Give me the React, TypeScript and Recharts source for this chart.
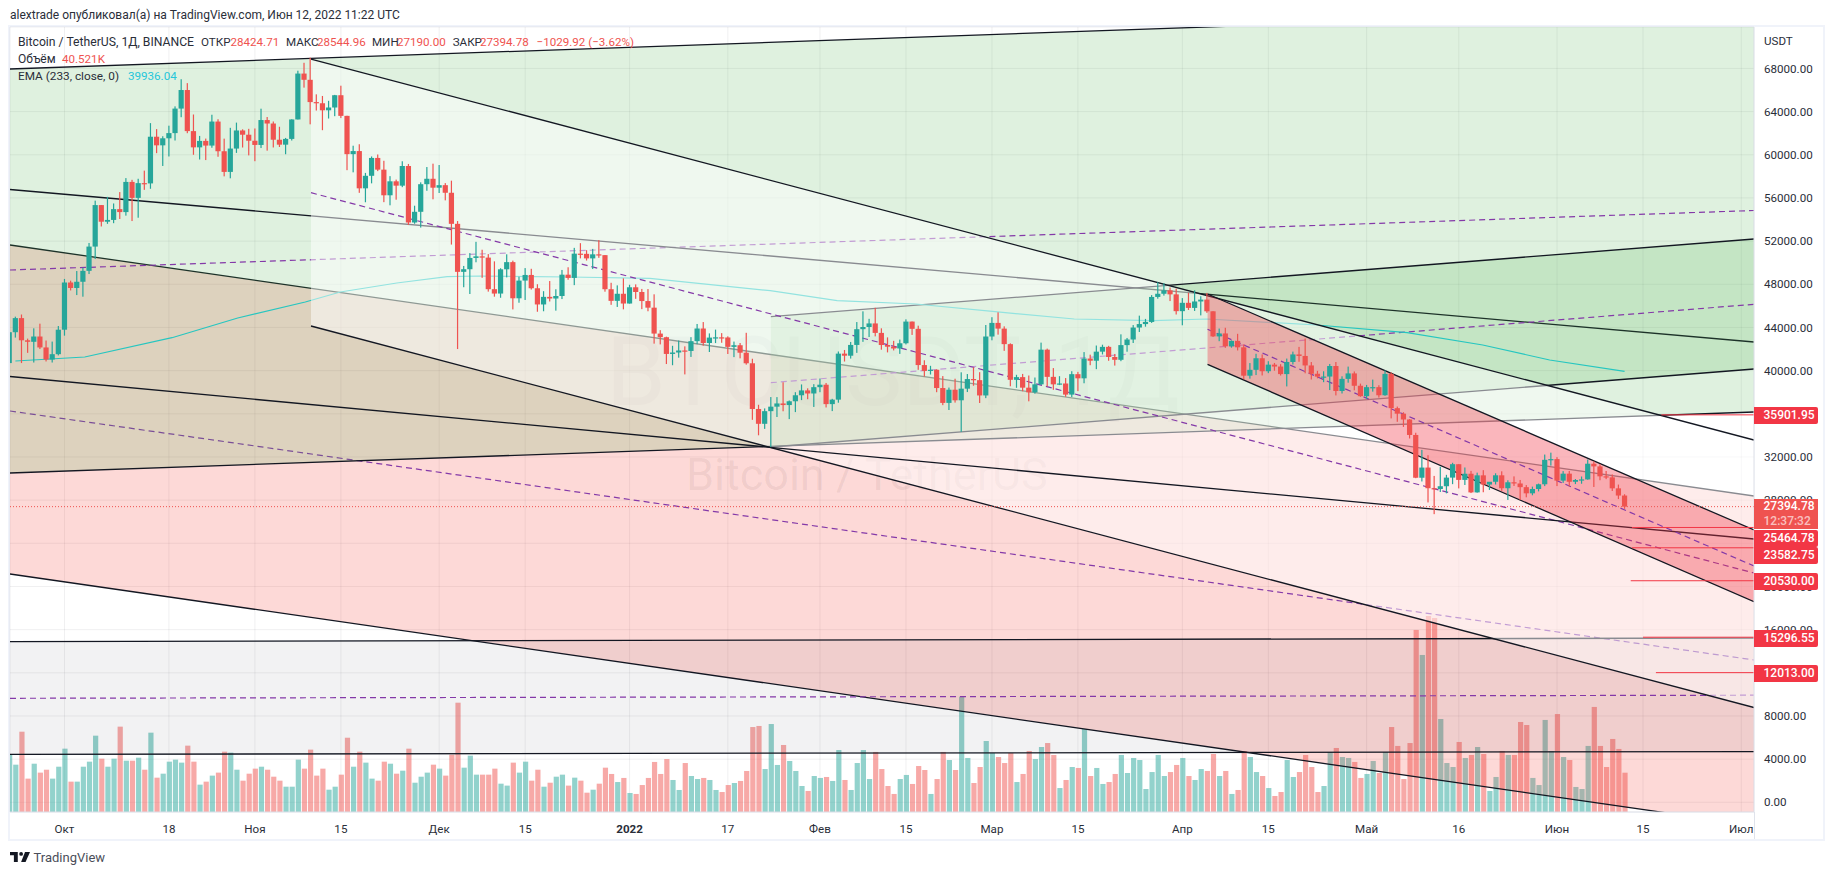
import React from "react";
import { ComposedChart, Bar, Line, Area, XAxis, YAxis, CartesianGrid } from "recharts";

const firstDay = -9;
const opens = [40698,43560,44865,42810,42670,43160,42147,41026,41522,43790,48165,47657,48233,49245,51493,55339,53797,53963,54963,54690,57485,56006,57374,57347,61672,60875,61528,62009,64280,66001,62193,60688,61286,60852,63078,60328,58413,60575,62253,61859,61300,60911,63219,62896,61395,60937,61470,63273,67525,66947,64882,64774,64122,64380,65519,63606,60058,60344,56891,58052,59707,58622,56247,57541,57138,58960,53726,54716,57274,57776,56950,57184,56480,53601,49152,49396,50441,50588,50471,47545,47140,49389,50053,46702,48343,48864,47632,46131,46834,46681,46914,48890,48589,50838,50820,50399,50775,50701,47543,46464,47120,46216,47722,47286,46446,45833,43431,43097,41546,41678,41864,41822,42729,43902,42560,43059,43084,43071,42201,42352,41660,40680,36445,35071,36244,36660,36958,36809,37160,37716,38166,37881,38466,38694,36896,37311,41574,41382,42380,43839,44042,44372,43495,42373,42217,42053,42535,44544,43873,40515,39974,40079,38386,37008,38230,37250,38327,39219,39116,37699,43160,44421,43892,42454,39148,39397,38420,37988,38730,41942,39422,38729,38807,37777,39671,39286,41118,40917,41757,42201,41262,41002,42364,42882,43991,44313,44511,46827,47122,47434,47067,45510,46283,45811,46407,46580,45497,43170,43445,42252,42753,42158,39530,40074,41147,39942,40552,40378,39678,40801,41500,41358,40480,39709,39441,39450,40426,38112,39235,39742,38596,37630,38468,38469,37716,39698,36521,36010,35472,34038,30074,31017,29103,29029,29287,30086,31329,29874,30444,28716,30296,29445,29700,30300,29102,29655,29542,29201,28630,29031,29468,31734,31801,29805,30452,29700,29865,29919,31373,31125,30204,30109,29091,28424.71];
const highs = [43950,45000,45200,42966,43920,44350,42787,42690,44132,48495,48336,49228,49529,51830,55750,55338,56100,55489,56545,57839,57680,57777,58532,62933,62378,61718,62695,64486,67000,66639,63732,61747,61500,63710,63293,61496,62499,62980,62359,62405,62437,64270,63500,63086,62595,61560,63286,67789,68524,69000,65600,65450,65000,65550,66401,63617,60840,60976,58320,59845,60029,59444,58020,57700,59398,59150,55280,57445,58865,59176,59053,57375,57600,53859,49699,50891,51936,51200,50797,50125,49485,50777,50189,48700,49500,49436,48004,47360,48300,47537,49328,49576,51375,51810,51156,51280,52088,50704,48139,47900,48548,47954,47990,47570,47557,47070,43748,43145,42300,42786,42248,43100,44322,44500,43448,43800,43475,43176,42691,42559,43505,41100,36835,36499,37550,37545,38919,37234,38000,38720,38359,38744,39265,38855,37387,41772,41913,42656,44500,45492,44799,45821,43920,43079,42760,42876,44751,44549,44164,40959,40444,40125,39494,38429,39249,39843,39683,40300,39855,44225,44949,45400,44102,42527,39613,39693,39547,39362,42594,42039,40236,39486,39310,39947,39887,41718,41478,42325,42400,42296,41544,43361,43025,44220,45094,44792,46999,48189,48096,47700,47600,46720,47213,47444,46890,47200,45507,43900,43970,42800,43410,42414,40699,41561,41500,40870,40709,40595,41116,41760,42199,42976,40795,39980,39940,40616,40797,39474,40372,39925,38795,38675,39167,38647,40023,39842,36668,36146,35510,34243,32658,32162,30243,31083,30343,31460,31328,31025,30709,30545,30777,29600,30487,30670,29840,30200,29868,29397,29251,29530,32222,32399,31982,30689,30699,29955,30189,31765,31589,31327,30700,30382,29440,28544.96];
const lows = [40680,43060,40700,41646,40750,42000,40850,40750,41410,43240,47430,47000,46850,48950,50340,53357,53600,53661,54050,54360,53860,54167,56750,56850,60150,58963,59844,61322,63481,62000,60000,59562,59510,60650,59817,58000,57820,60174,60673,59945,59405,60624,60382,60677,60721,60050,61322,63273,66222,62822,64100,62278,63360,63576,63400,58574,58373,56474,55600,57353,58486,55610,55317,55837,57000,53500,53610,53256,56666,55875,56458,55777,51680,42000,47727,47100,50039,48600,47320,46852,46751,48638,45672,46290,46547,47511,45456,45500,46406,45558,46630,48421,47920,50400,50200,49412,50449,47313,46096,45900,45678,46208,46654,45696,45500,42500,42430,40610,40501,41200,39650,41268,42450,42311,41725,42555,42581,41540,41250,41138,40553,35440,34008,34601,32917,35701,36234,35507,36155,37268,37351,36632,38000,36586,36250,37026,40843,41116,41645,42666,43117,43174,41938,41688,41870,41550,42427,43307,40073,39450,39639,38000,36800,36350,37036,34322,38014,38600,37000,37450,42809,43334,41832,38550,38407,38088,37155,37867,38656,38539,38223,38660,37578,37555,38098,38828,40500,40135,41499,40911,40467,40875,41751,42560,43579,44071,44422,46663,46950,46445,45200,44200,45620,45530,45118,45353,43121,42727,42107,42125,41868,39200,39254,39588,39551,39766,39991,39546,38536,40571,40820,39751,39177,39285,38929,38200,37702,37881,38881,38175,37578,37386,38053,37500,37670,35571,35258,34785,33713,30033,29730,27785,26700,28751,28630,29480,29087,29404,28654,28691,28730,28947,29450,28866,28019,29311,28019,28261,28450,28810,29299,31200,29301,29594,29282,29485,29519,29890,29218,29843,29944,28850,28099,27190];
const closes = [43560,44865,42810,42670,43160,42147,41026,41522,43790,48165,47657,48233,49245,51493,55339,53797,53963,54963,54690,57485,56006,57374,57347,61672,60875,61528,62009,64280,66001,62193,60688,61286,60852,63078,60328,58413,60575,62253,61859,61300,60911,63219,62896,61395,60937,61470,63273,67525,66947,64882,64774,64122,64380,65519,63606,60058,60344,56891,58052,59707,58622,56247,57541,57138,58960,53726,54716,57274,57776,56950,57184,56480,53601,49152,49396,50441,50588,50471,47545,47140,49389,50053,46702,48343,48864,47632,46131,46834,46681,46914,48890,48589,50838,50820,50399,50775,50701,47543,46464,47120,46216,47722,47286,46446,45833,43431,43097,41546,41678,41864,41822,42729,43902,42560,43059,43084,43071,42201,42352,41660,40680,36445,35071,36244,36660,36958,36809,37160,37716,38166,37881,38466,38694,36896,37311,41574,41382,42380,43839,44042,44372,43495,42373,42217,42053,42535,44544,43873,40515,39974,40079,38386,37008,38230,37250,38327,39219,39116,37699,43160,44421,43892,42454,39148,39397,38420,37988,38730,41942,39422,38729,38807,37777,39671,39286,41118,40917,41757,42201,41262,41002,42364,42882,43991,44313,44511,46827,47122,47434,47067,45510,46283,45811,46407,46580,45497,43170,43445,42252,42753,42158,39530,40074,41147,39942,40552,40378,39678,40801,41500,41358,40480,39709,39441,39450,40426,38112,39235,39742,38596,37630,38468,38469,37716,39698,36521,36010,35472,34038,30074,31017,29103,29029,29287,30086,31329,29874,30444,28716,30296,29445,29700,30300,29102,29655,29542,29201,28630,29031,29468,31734,31801,29805,30452,29700,29865,29919,31373,31125,30204,30109,29091,28424.71,27394.78];
const volumes = [59.1,48.8,82.8,34.4,49.8,40.6,43.6,34.4,46.7,65.3,31.3,31.3,46.7,51.9,78.7,55.0,46.7,55.0,88.0,52.9,52.9,56.0,43.6,81.8,35.4,39.5,51.9,54.0,50.9,68.4,51.9,28.2,31.3,37.5,40.6,62.2,61.2,43.6,32.3,39.5,44.7,46.7,43.6,36.4,32.3,26.1,26.1,54.0,44.7,64.3,37.5,44.7,23.0,26.1,38.5,76.6,46.7,62.2,50.9,34.4,32.3,51.9,49.8,39.5,42.6,65.3,30.2,36.4,40.6,48.8,44.7,37.5,59.1,112.7,45.7,58.1,38.5,38.5,38.5,44.7,29.2,27.2,50.9,40.6,51.9,32.3,43.6,26.1,30.2,36.4,38.5,27.2,35.4,32.3,19.9,23.0,29.2,45.7,39.2,30.9,35.1,19.6,18.6,27.8,35.1,51.6,39.2,54.6,33.0,22.7,50.5,37.1,34.0,35.1,33.0,22.7,20.6,27.8,29.9,32.0,42.3,87.6,88.7,44.3,90.7,48.5,69.1,52.6,42.3,26.8,21.7,37.1,35.1,36.1,32.0,63.9,33.0,22.7,50.5,63.9,34.0,61.9,44.3,26.8,18.6,34.0,38.2,28.9,47.4,43.3,18.6,34.0,61.9,53.6,43.3,118.9,55.7,29.9,46.4,73.2,60.8,56.7,50.5,60.8,30.9,39.2,62.9,54.6,67.0,71.1,58.8,24.7,33.0,46.4,45.4,85.6,37.1,45.4,28.9,30.9,39.2,58.8,40.2,55.7,53.6,23.7,41.2,58.8,37.1,41.2,48.5,55.7,37.1,33.0,44.3,42.3,59.8,37.1,42.3,18.6,22.7,62.9,56.7,41.2,37.1,24.7,16.5,20.6,53.6,36.1,41.2,58.8,46.4,20.6,26.8,61.9,66.0,56.7,55.7,51.6,35.1,39.2,52.6,40.2,61.9,87.6,68.1,34.0,71.1,187.7,161.9,202.1,200.0,95.9,50.5,46.4,72.2,55.7,58.8,67.0,59.8,21.7,36.1,62.9,58.8,58.8,92.8,89.7,35.1,27.8,94.9,62.9,101.0,56.7,53.6,25.8,23.7,68.1,108.3,68.1,46.4,75.3,65.0,40.521];

const emaDays = [-8,3.3,17.5,28.2,39.2,44.9,54.1,62.3,67.6,82.3,95.3,114.9,125.8,138.6,151.5,164.4,177.2,186,203.9,218.6,230.9,241.8,254];
const emaValues = [40892,41263,43050,44876,46358,47285,48119,48703,48768,48675,48554,47405,46479,46174,45459,44783,44626,44783,44228,43514,42374,40984,39936];

const dayMin = -8.874;
const dayMax = 275.07;
const priceMin = -899;
const priceMax = 71840;
const volumeMax = 809.4;

const priceTicks = [0,4000,8000,12000,16000,20000,24000,28000,32000,36000,40000,44000,48000,52000,56000,60000,64000,68000];
const timeTicks = [0,17,31,45,61,75,92,108,123,137,151,165,182,196,212,227,243,257,273];
const timeLabels = ["Окт","18","Ноя","15","Дек","15","2022","17","Фев","15","Мар","15","Апр","15","Май","16","Июн","15","Июл"];

type P = { day: number; value: number };
const seg = (d0: number, v0: number, d1: number, v1: number): P[] => [{ day: d0, value: v0 }, { day: d1, value: v1 }];
const band = (top: P[], bottom: P[]) => top.map((p, i) => ({ day: p.day, range: [bottom[i].value, p.value] }));

// drawing anchors (day, price)
const upTop = seg(dayMin, 67947, dayMax, 73618);
const upMid = seg(dayMin, 49323, dayMax, 54836);
const upBottom = seg(dayMin, 30513, dayMax, 36165);
const lineA = seg(dayMin, 56782, dayMax, 42651);
const lineB = seg(dayMin, 39455, dayMax, 24397);
const redTop = seg(dayMin, 51640, dayMax, 28382);
const redMid = seg(dayMin, 36258, dayMax, 13186);
const redBottom = seg(dayMin, 21154, dayMax, -2150);
const flatTop = seg(dayMin, 14881, dayMax, 15224);
const flatMid = seg(dayMin, 9637, dayMax, 9924);
const flatBottom = seg(dayMin, 4438, dayMax, 4698);
const riseTop = seg(115, 44996, dayMax, 52195);
const riseMid = seg(115, 38880, dayMax, 46145);
const riseBottom = seg(115, 32922, dayMax, 40150);
const fallTop = seg(40.13, 68874, dayMax, 33571);
const fallMid = seg(40.13, 56486, dayMax, 21247);
const fallBottom = seg(40.13, 44134, dayMax, 8784);
const chanTop = seg(186.1, 47099, dayMax, 25231);
const chanMid = seg(186.1, 43828, dayMax, 21896);
const chanBottom = seg(186.1, 40585, dayMax, 18588);

const lastPrice = 27394.78;
const levels: [number, number][] = [[35901.95,260],[25464.78,255.2],[23582.75,255.2],[20530,255],[15296.55,257],[12013,259.1]];

const rows = closes.map((c, i) => ({
  day: firstDay + i, open: opens[i], high: highs[i], low: lows[i], close: c, volume: volumes[i],
}));

const UP = "#26a69a";
const DOWN = "#ef5350";
const INK = "#131722";
const DASH = "#8439a8";
const FONT = "Roboto, sans-serif";
const TEXT = "#2a2e39";
const BODY = 5.2;

const Candle = (p: any) => {
  const { x, y, width, height, payload: d } = p;
  const k = height / (d.high - d.low);
  const yO = y + (d.high - d.open) * k;
  const yC = y + (d.high - d.close) * k;
  const color = d.close >= d.open ? UP : DOWN;
  const cx = x + width / 2;
  return (
    <g>
      <rect x={cx - 0.6} y={y} width={1.2} height={height} fill={color} />
      <rect x={cx - BODY / 2} y={Math.min(yO, yC)} width={BODY} height={Math.max(1.2, Math.abs(yC - yO))} fill={color} />
    </g>
  );
};

const VolumeBar = (p: any) => {
  const { x, y, width, height, payload: d } = p;
  const cx = x + width / 2;
  return <rect x={cx - BODY / 2} y={y} width={BODY} height={height} fill={d.close >= d.open ? "rgba(38,166,154,0.5)" : "rgba(239,83,80,0.5)"} />;
};

const TimeTick = (p: any) => {
  const label = timeLabels[timeTicks.indexOf(p.payload.value)];
  return (
    <text x={p.x} y={p.y + 13} textAnchor="middle" fontFamily={FONT} fontSize={11.6} fill={TEXT} fontWeight={label === "2022" ? 700 : 400}>{label}</text>
  );
};

const PriceTick = (p: any) => (
  <text x={1764} y={p.y + 4.2} textAnchor="start" fontFamily={FONT} fontSize={11.6} fill={TEXT}>{Number(p.payload.value).toFixed(2)}</text>
);

let z = 10;
const fill = (data: any[], color: string) => {
  z += 1;
  return <Area key={"a" + z} data={data} dataKey="range" yAxisId="price" type="linear" stroke="none" fill={color} fillOpacity={1} dot={false} activeDot={false} isAnimationActive={false} legendType="none" zIndex={z} />;
};
const stroke = (data: P[], color: string, dash?: string, width = 1.3) => {
  z += 1;
  return <Line key={"l" + z} data={data} dataKey="value" yAxisId="price" type="linear" stroke={color} strokeWidth={width} strokeDasharray={dash} dot={false} activeDot={false} isAnimationActive={false} legendType="none" zIndex={z} />;
};

const Tag = ({ cy, text, color = "#f23645" }: { cy: number; text: string; color?: string }) => (
  <div style={{ position: "absolute", left: 1754, top: cy - 8.5, width: 64, height: 17, background: color, color: "#fff", fontFamily: FONT, fontSize: 12, fontWeight: 500, lineHeight: "17px", paddingLeft: 9.5, boxSizing: "border-box", borderRadius: "0 2px 2px 0" }}>{text}</div>
);

const Abs = ({ x, y, color = TEXT, size = 11.6, children }: any) => (
  <span style={{ position: "absolute", left: x, top: y - 8, lineHeight: "16px", fontFamily: FONT, fontSize: size, color, whiteSpace: "nowrap" }}>{children}</span>
);

export default function App() {
  z = 10;
  const emaData = emaDays.map((d, i) => ({ day: d, value: emaValues[i] }));
  const lastLine = seg(dayMin, lastPrice, dayMax, lastPrice);
  return (
    <div style={{ position: "absolute", left: 0, top: 0, width: 1834, height: 875, background: "#fff", overflow: "hidden" }}>
      <Abs x={10} y={15} size={12} color="#2a2e39">alextrade опубликовал(а) на TradingView.com, Июн 12, 2022 11:22 UTC</Abs>

      <div style={{ position: "absolute", left: 8, top: 25, width: 1817, height: 816, boxSizing: "border-box", border: "2px solid #f0f3fa" }} />
      <div style={{ position: "absolute", left: 606, top: 316, fontFamily: FONT, fontSize: 96, lineHeight: "112px", color: "rgba(19,23,34,0.05)", whiteSpace: "nowrap" }}>BTCUSDT, 1Д</div>
      <div style={{ position: "absolute", left: 686, top: 448, fontFamily: FONT, fontSize: 45, lineHeight: "54px", color: "rgba(19,23,34,0.07)", whiteSpace: "nowrap" }}>Bitcoin / TetherUS</div>

      <div style={{ position: "absolute", left: 0, top: 0 }}>
        <ComposedChart width={1834} height={875} data={rows} margin={{ top: 27, left: 10, right: 0, bottom: 36 }}>
          <CartesianGrid yAxisId="price" stroke="rgba(42,46,57,0.07)" strokeWidth={1} />
          <XAxis dataKey="day" type="number" domain={[dayMin, dayMax]} ticks={timeTicks} interval={0} allowDataOverflow height={27} stroke="#e0e3eb" tickLine={false} tick={<TimeTick />} />
          <XAxis xAxisId="vol" dataKey="day" type="number" domain={[dayMin, dayMax]} allowDataOverflow hide />
          <YAxis yAxisId="price" orientation="right" type="number" domain={[priceMin, priceMax]} ticks={priceTicks} interval={0} allowDataOverflow width={80} stroke="#e0e3eb" tickLine={false} tick={<PriceTick />} />
          <YAxis yAxisId="vol" type="number" domain={[0, volumeMax]} allowDataOverflow hide />

          <Bar xAxisId="vol" yAxisId="vol" dataKey="volume" barSize={5} shape={<VolumeBar />} isAnimationActive={false} legendType="none" zIndex={5} />

          {fill(band(redTop, redBottom), "rgba(244,67,54,0.2)")}
          {stroke(redTop, INK)}
          {stroke(redMid, DASH, "6 4", 1.2)}
          {stroke(redBottom, INK)}

          {fill(band(upTop, upBottom), "rgba(76,175,80,0.18)")}
          {stroke(upTop, INK)}
          {stroke(upMid, DASH, "6 4", 1.2)}
          {stroke(upBottom, INK)}

          {fill(band(flatTop, flatBottom), "rgba(19,23,34,0.055)")}
          {stroke(flatTop, INK)}
          {stroke(flatMid, DASH, "6 4", 1.2)}
          {stroke(flatBottom, INK)}

          {stroke(lineA, INK)}

          {fill(band(riseTop, riseBottom), "rgba(76,175,80,0.18)")}
          {stroke(riseTop, INK)}
          {stroke(riseMid, DASH, "6 4", 1.2)}
          {stroke(riseBottom, INK)}

          {stroke(emaData, "#26c6c0", undefined, 1.2)}

          {fill(band(fallTop, fallBottom), "rgba(255,255,255,0.5)")}
          {stroke(fallTop, INK)}
          {stroke(fallMid, DASH, "6 4", 1.2)}
          {stroke(fallBottom, INK)}
          {stroke(lineB, INK)}

          {fill(band(chanTop, chanBottom), "rgba(242,54,69,0.36)")}
          {stroke(chanTop, INK)}
          {stroke(chanMid, DASH, "6 4", 1.2)}
          {stroke(chanBottom, INK)}

          <Bar dataKey={(d: any) => [d.low, d.high]} yAxisId="price" barSize={5} shape={<Candle />} isAnimationActive={false} legendType="none" zIndex={300} />

          {levels.map(([v, d], i) => (
            <Line key={"lvl" + i} data={seg(d, v, dayMax, v)} dataKey="value" yAxisId="price" type="linear" stroke="#f23645" strokeWidth={1} dot={false} activeDot={false} isAnimationActive={false} legendType="none" zIndex={310} />
          ))}
          <Line data={lastLine} dataKey="value" yAxisId="price" type="linear" stroke={DOWN} strokeWidth={1} strokeDasharray="1 2" dot={false} activeDot={false} isAnimationActive={false} legendType="none" zIndex={320} />
        </ComposedChart>
      </div>

      <div style={{ position: "absolute", left: 1754, top: 812, width: 1, height: 27, background: "#e0e3eb" }} />

      <Abs x={18} y={41.5} size={12.2} color={TEXT}>Bitcoin / TetherUS, 1Д, BINANCE</Abs>
      <Abs x={201} y={41.5} color={TEXT}>ОТКР</Abs><Abs x={230.5} y={41.5} color={DOWN}>28424.71</Abs>
      <Abs x={286} y={41.5} color={TEXT}>МАКС</Abs><Abs x={317} y={41.5} color={DOWN}>28544.96</Abs>
      <Abs x={372} y={41.5} color={TEXT}>МИН</Abs><Abs x={397} y={41.5} color={DOWN}>27190.00</Abs>
      <Abs x={452.7} y={41.5} color={TEXT}>ЗАКР</Abs><Abs x={480} y={41.5} color={DOWN}>27394.78</Abs>
      <Abs x={536.6} y={41.5} color={DOWN}>−1029.92 (−3.62%)</Abs>
      <Abs x={18} y={58.7} size={12} color={TEXT}>Объём</Abs><Abs x={62} y={58.7} color={DOWN}>40.521K</Abs>
      <Abs x={18} y={76} size={11.8} color={TEXT}>EMA (233, close, 0)</Abs><Abs x={128} y={76} color="#26c6da">39936.04</Abs>

      <Abs x={1764} y={41} color={TEXT}>USDT</Abs>

      <Tag cy={415} text="35901.95" />
      <div style={{ position: "absolute", left: 1754, top: 499, width: 64, height: 30, background: DOWN, fontFamily: FONT, fontSize: 12, fontWeight: 500, paddingLeft: 9.5, boxSizing: "border-box", color: "#fff", lineHeight: "14.5px" }}>
        <div>27394.78</div>
        <div style={{ color: "rgba(255,255,255,0.65)" }}>12:37:32</div>
      </div>
      <Tag cy={538} text="25464.78" />
      <Tag cy={555.5} text="23582.75" />
      <Tag cy={581.5} text="20530.00" />
      <Tag cy={638.5} text="15296.55" />
      <Tag cy={673.5} text="12013.00" />

      <svg style={{ position: "absolute", left: 10, top: 852 }} width={20} height={10} viewBox="0 0 36 18">
        <path d="M0 0h14v18H7V6H0z" fill="#131722" />
        <circle cx={20} cy={3.4} r={3.4} fill="#131722" />
        <path d="M27 0h9l-8 18h-8z" fill="#131722" />
      </svg>
      <Abs x={33.5} y={857.5} size={13} color="#4a4e59">TradingView</Abs>
    </div>
  );
}
